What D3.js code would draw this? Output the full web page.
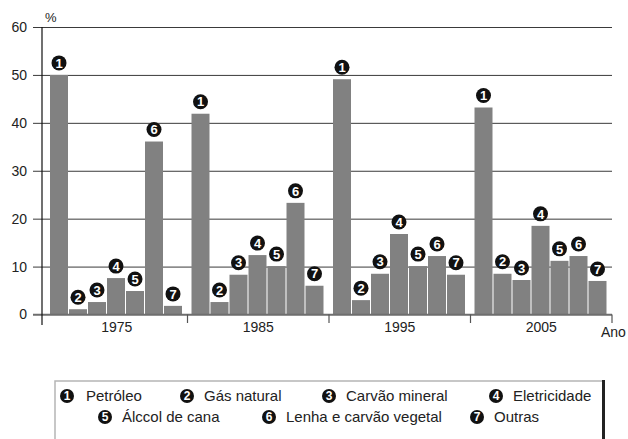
<!DOCTYPE html>
<html>
<head>
<meta charset="utf-8">
<script src="https://cdn.jsdelivr.net/npm/d3@7"></script>
<style>
  body { margin: 0; background: #fff; }
  svg { font-family: "Liberation Sans", Arial, sans-serif; }
</style>
</head>
<body>
<div class="chart-container"></div>
<script>
// data
const years = ["1975", "1985", "1995", "2005"]
const sources = ["Petróleo", "Gás natural", "Carvão mineral", "Eletricidade",
  "Álccol de cana", "Lenha e carvão vegetal", "Outras"]
const marks = ["1", "2", "3", "4", "5", "6", "7"]
const v1975 = [50.0, 1.1, 2.6, 7.6, 4.9, 36.1, 1.8]
const v1985 = [41.9, 2.6, 8.3, 12.4, 10.1, 23.3, 6.0]
const v1995 = [49.1, 3.0, 8.5, 16.8, 10.1, 12.2, 8.3]
const v2005 = [43.2, 8.5, 7.2, 18.5, 11.2, 12.2, 7.0]
const yTicks = [0, 10, 20, 30, 40, 50, 60]

const values = [v1975, v1985, v1995, v2005]
const rows = []
years.forEach((yr, i) => values[i].forEach((v, j) => rows.push({year: yr, k: j, v: v})))

// legend layout (two rows)
const legendPos = [[67, 396], [187, 396], [329, 396], [496, 396], [105, 417], [269, 417], [477, 417]]

const svg = d3.select(".chart-container").append("svg").attr("width", 628).attr("height", 439)

const y = d3.scaleLinear().domain([0, 60]).range([314.5, 27])
const x0 = d3.scaleBand().domain(years).range([46, 612])
const x1 = d3.scaleBand().domain(d3.range(7)).range([4, 137])

// gridlines + y labels
const yAxis = svg.append("g").attr("transform", "translate(33,0)")
  .call(d3.axisLeft(y).tickValues(yTicks).tickSize(-579).tickPadding(6))
yAxis.select(".domain").remove()
yAxis.selectAll("line").attr("stroke", "#3a3a3a").attr("stroke-width", 1)
yAxis.selectAll("text").attr("font-size", 14).attr("fill", "#222")

svg.append("text").attr("x", 45).attr("y", 22).attr("font-size", 13).attr("fill", "#222").text("%")

// bars
svg.append("g").selectAll("rect").data(rows).enter().append("rect")
  .attr("x", d => x0(d.year) + x1(d.k))
  .attr("y", d => y(d.v))
  .attr("width", x1.bandwidth() - 1)
  .attr("height", d => y(0) - y(d.v))
  .attr("fill", "#818181")

// zero line
svg.append("line").attr("x1", 33).attr("x2", 612).attr("y1", y(0)).attr("y2", y(0))
  .attr("stroke", "#6e6e6e").attr("stroke-width", 1.5)

// y axis line
svg.append("line").attr("x1", 42).attr("x2", 42).attr("y1", y(60)).attr("y2", 325)
  .attr("stroke", "#111").attr("stroke-width", 1.2)

// group separators
svg.append("g").selectAll("line").data(years).enter().append("line")
  .attr("x1", d => x0(d) + x0.bandwidth()).attr("x2", d => x0(d) + x0.bandwidth())
  .attr("y1", y(0)).attr("y2", 323)
  .attr("stroke", "#555").attr("stroke-width", 1.2)

// year labels
const xAxis = svg.append("g").attr("transform", `translate(0,${y(0)})`)
  .call(d3.axisBottom(x0).tickSize(0).tickPadding(8))
xAxis.select(".domain").remove()
xAxis.selectAll("text").attr("font-size", 14).attr("fill", "#222")

svg.append("text").attr("x", 601).attr("y", 337).attr("font-size", 14).attr("fill", "#222").text("Ano")

// numbered markers over bars
const mk = svg.append("g").selectAll("g").data(rows).enter().append("g")
  .attr("transform", d => `translate(${x0(d.year) + x1(d.k) + (x1.bandwidth() - 1) / 2},${y(d.v) - 12})`)
mk.append("circle").attr("r", 7.5).attr("fill", "#111")
mk.append("text").attr("text-anchor", "middle").attr("dy", "0.36em")
  .attr("font-size", 13).attr("font-weight", "bold").attr("fill", "#fff")
  .text(d => marks[d.k])

// legend box
const lg = svg.append("g")
lg.append("path").attr("d", "M55,445 V381 H603").attr("fill", "none").attr("stroke", "#b5b5b5").attr("stroke-width", 1.5)
lg.append("line").attr("x1", 603.5).attr("x2", 603.5).attr("y1", 380).attr("y2", 445)
  .attr("stroke", "#222").attr("stroke-width", 3)

const li = lg.selectAll("g.item").data(sources).enter().append("g").attr("class", "item")
  .attr("transform", (d, i) => `translate(${legendPos[i][0]},${legendPos[i][1]})`)
li.append("circle").attr("r", 7).attr("fill", "#111")
li.append("text").attr("text-anchor", "middle").attr("dy", "0.36em")
  .attr("font-size", 12).attr("font-weight", "bold").attr("fill", "#fff")
  .text((d, i) => marks[i])
li.append("text").attr("x", (d, i) => i == 0 ? 19 : 17).attr("dy", "0.35em")
  .attr("font-size", 15).attr("fill", "#222").text(d => d)
</script>
</body>
</html>
